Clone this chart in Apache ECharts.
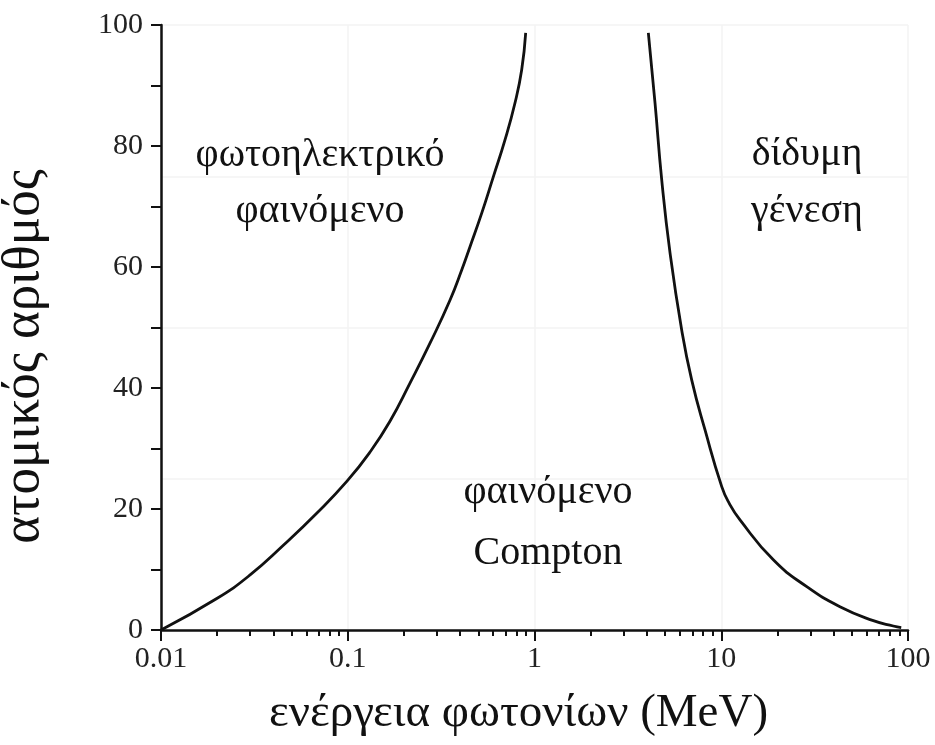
<!DOCTYPE html>
<html>
<head>
<meta charset="utf-8">
<script src="https://cdn.jsdelivr.net/npm/echarts@6/dist/echarts.min.js"></script>
<style>
  html, body { margin: 0; padding: 0; background: #fff; }
  #chart { width: 935px; height: 745px; }
</style>
</head>
<body>
<div id="chart"></div>
<script>
// Boundary between photoelectric effect and Compton scattering: [energy MeV, Z]
const photoComptonBoundary = [
  [0.01, 0], [0.0199, 5.2], [0.030, 9.1], [0.0452, 14.0], [0.0682, 19.3],
  [0.0991, 24.6], [0.1315, 29.4], [0.1683, 34.5], [0.2154, 40.8], [0.2757, 47.4],
  [0.3526, 54.5], [0.4076, 59.5], [0.452, 63.4], [0.5217, 68.9], [0.6017, 74.9],
  [0.695, 81.0], [0.786, 87.1], [0.854, 92.6], [0.897, 98.7]
];
// Boundary between Compton scattering and pair production: [energy MeV, Z]
const comptonPairBoundary = [
  [4.07, 98.7], [4.42, 87.1], [4.80, 74.4], [5.32, 62.3], [6.14, 49.6],
  [6.95, 41.3], [8.18, 33.1], [10.06, 23.7], [11.05, 20.9], [12.6, 18.2],
  [19.0, 11.6], [28.7, 7.16], [43.2, 3.85], [65.2, 1.54], [83.4, 0.66], [92, 0.4]
];

const xMajorTicks = [0.01, 0.1, 1, 10, 100];
const xTickLabels = ['0.01', '0.1', '1', '10', '100'];
const xMinorTicks = [];
[0.01, 0.1, 1, 10].forEach(function (d) {
  [2, 3, 4, 5, 6, 7, 8, 9].forEach(function (m) { xMinorTicks.push(+(d * m).toPrecision(3)); });
});
const yTickLabels = [0, 20, 40, 60, 80, 100];

const regionLabels = [
  { lines: ['φωτοηλεκτρικό', 'φαινόμενο'], x: 320, y: [155, 211] },
  { lines: ['δίδυμη', 'γένεση'], x: 807, y: [154, 211] },
  { lines: ['φαινόμενο', 'Compton'], x: 548, y: [492, 553] }
];

const FONT = '"Liberation Serif", "DejaVu Serif", serif';
const INK = '#111';

const chart = echarts.init(document.getElementById('chart'), null, { renderer: 'canvas' });

const graphics = [];
regionLabels.forEach(function (r) {
  r.lines.forEach(function (t, i) {
    graphics.push({
      type: 'text', x: r.x, y: r.y[i],
      style: { text: t, font: '40px ' + FONT, fill: INK, textAlign: 'center', textVerticalAlign: 'middle' },
      z: 10
    });
  });
});

chart.setOption({
  animation: false,
  backgroundColor: '#fff',
  grid: { left: 161, right: 27, top: 25, bottom: 115, containLabel: false, outerBoundsMode: 'none' },
  xAxis: [
    {
      type: 'log', logBase: 10, min: 0.01, max: 100, position: 'bottom',
      name: 'ενέργεια φωτονίων (MeV)', nameLocation: 'middle', nameGap: 60,
      nameTextStyle: { fontFamily: FONT, fontSize: 47, color: INK, padding: [0, 32, 0, 0] },
      axisLine: { show: true, lineStyle: { color: INK, width: 2.5 } },
      axisTick: { show: true, length: 11, customValues: xMajorTicks, lineStyle: { color: INK, width: 2 } },
      axisLabel: {
        show: true, margin: 14, customValues: xMajorTicks,
        fontFamily: FONT, fontSize: 30, color: '#222',
        formatter: function (v) {
          const i = xMajorTicks.findIndex(function (t) { return Math.abs(Math.log10(t) - Math.log10(v)) < 1e-6; });
          return i >= 0 ? xTickLabels[i] : '';
        }
      },
      splitLine: { show: true, lineStyle: { color: '#f3f3f3', width: 1.5 } },
      minorTick: { show: false }
    },
    {
      type: 'log', logBase: 10, min: 0.01, max: 100, position: 'bottom', offset: 0,
      axisLine: { show: false },
      axisTick: { show: true, length: 6, customValues: xMinorTicks, lineStyle: { color: INK, width: 2 } },
      axisLabel: { show: false },
      splitLine: { show: false }
    }
  ],
  yAxis: [
    {
      type: 'value', min: 0, max: 100, interval: 10,
      name: 'ατομικός αριθμός', nameLocation: 'middle', nameGap: 110, nameRotate: 90,
      nameTextStyle: { fontFamily: FONT, fontSize: 53, color: INK, padding: [0, 58, 0, 0] },
      axisLine: { show: true, lineStyle: { color: INK, width: 2.5 } },
      axisTick: { show: true, length: 10, lineStyle: { color: INK, width: 2 } },
      axisLabel: {
        show: true, margin: 18, customValues: yTickLabels,
        fontFamily: FONT, fontSize: 30, color: '#222'
      },
      splitLine: { show: false }
    },
    {
      type: 'value', min: 0, max: 100, interval: 25, position: 'left',
      axisLine: { show: false }, axisTick: { show: false }, axisLabel: { show: false },
      splitLine: { show: true, lineStyle: { color: '#f3f3f3', width: 1.5 } }
    }
  ],
  series: [
    {
      type: 'line', xAxisIndex: 0, yAxisIndex: 0, data: photoComptonBoundary,
      smooth: 0.5, showSymbol: false, symbol: 'none',
      lineStyle: { color: INK, width: 2.8 }, z: 5
    },
    {
      type: 'line', xAxisIndex: 0, yAxisIndex: 0, data: comptonPairBoundary,
      smooth: 0.5, showSymbol: false, symbol: 'none',
      lineStyle: { color: INK, width: 2.8 }, z: 5
    }
  ],
  graphic: graphics
});
</script>
</body>
</html>
